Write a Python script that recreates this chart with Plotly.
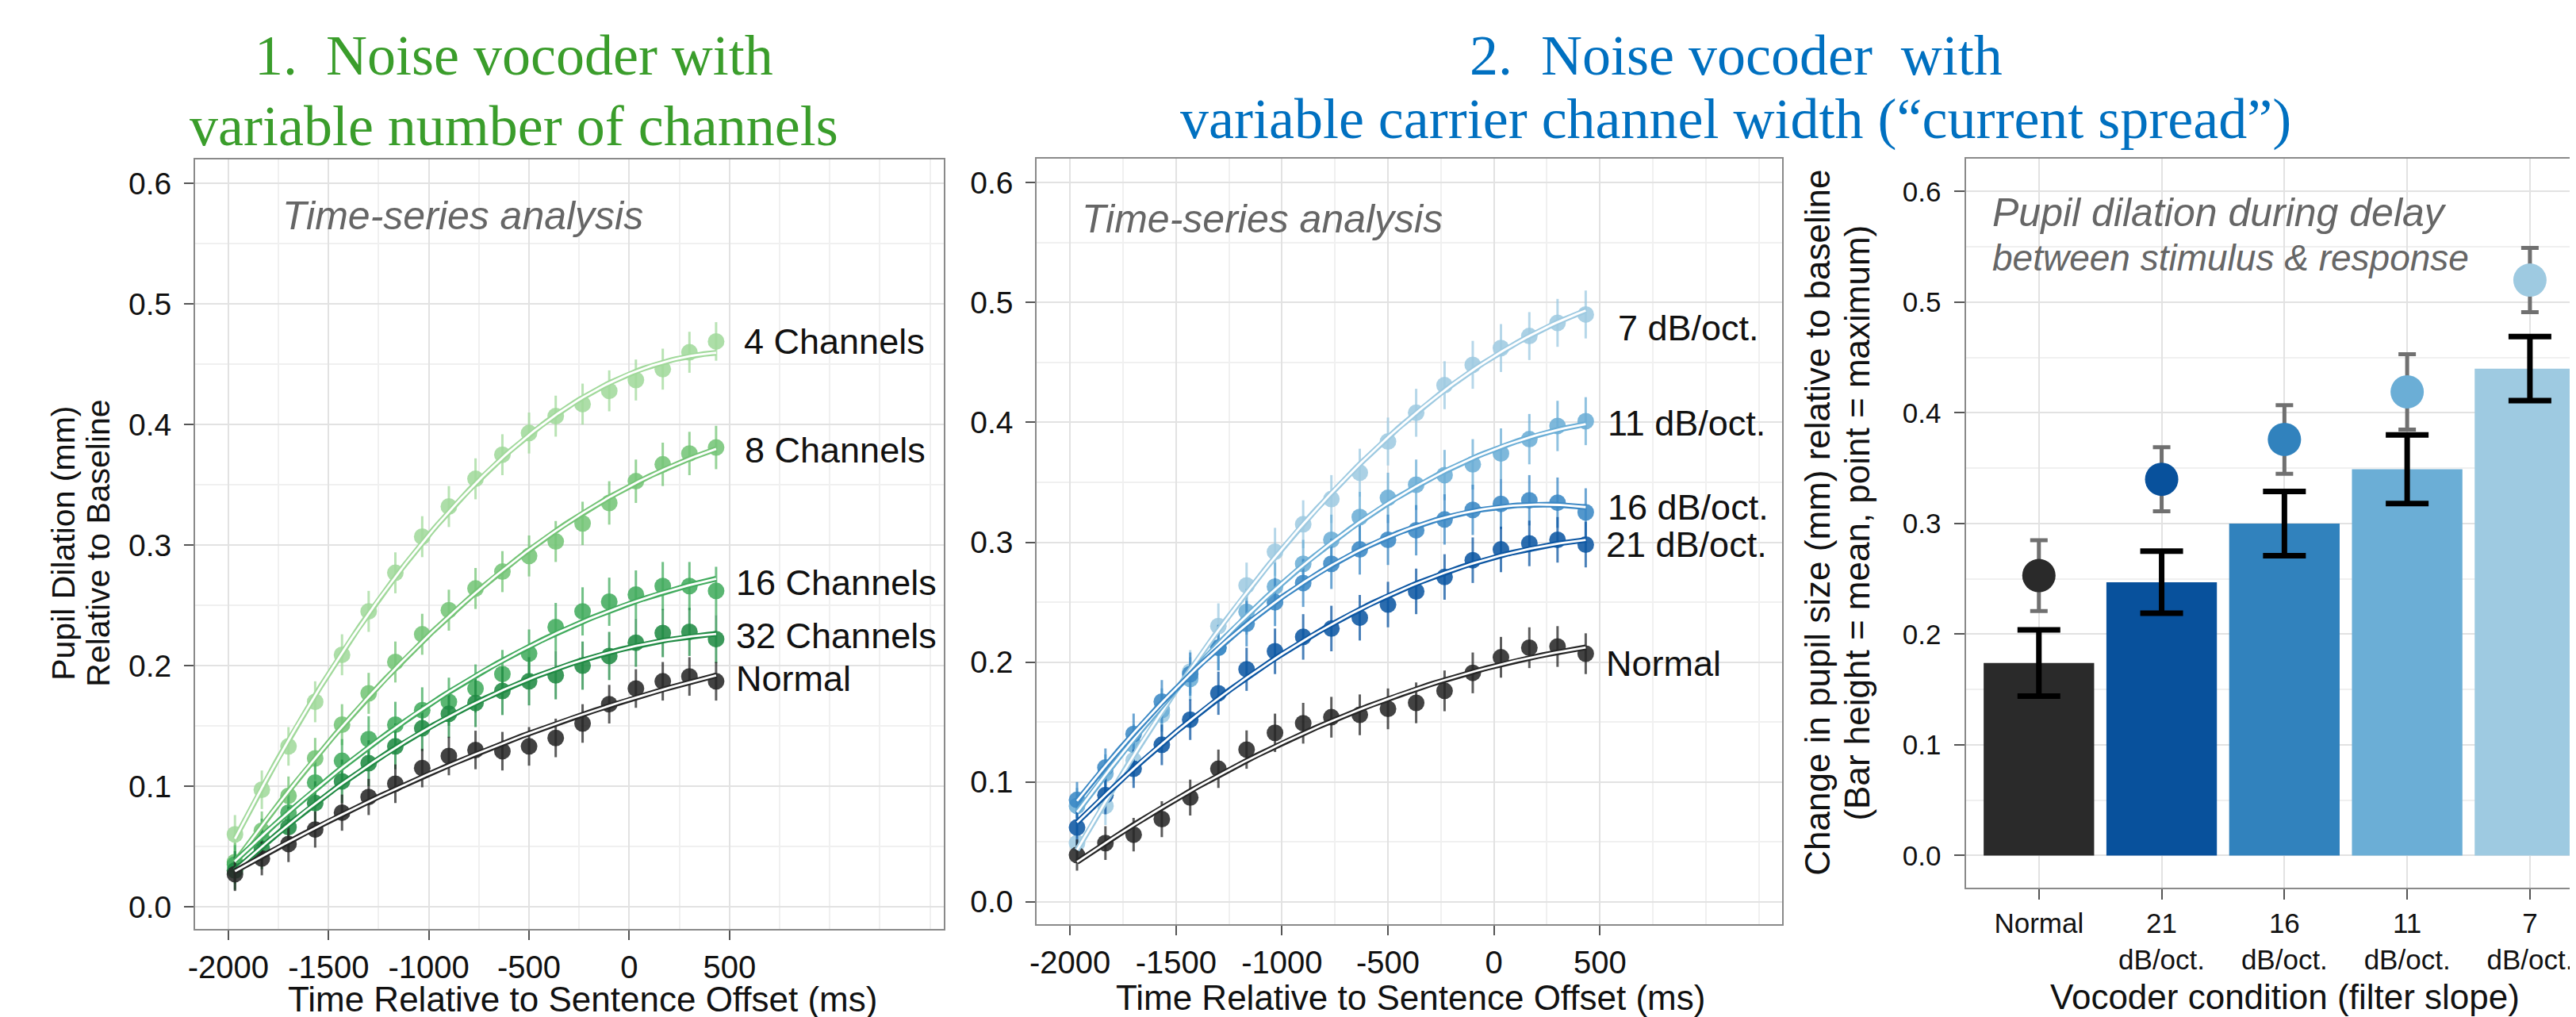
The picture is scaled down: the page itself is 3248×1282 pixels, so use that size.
import numpy as np
import plotly.graph_objects as go

W, H = 3248, 1282

# ---------------- data ----------------
time_ms = [-1967, -1833, -1700, -1567, -1433, -1300, -1167, -1033, -900, -767,
           -633, -500, -367, -233, -100, 33, 167, 300, 433]

# Panel 1: number of channels
p1_names = ["4 Channels", "8 Channels", "16 Channels", "32 Channels", "Normal"]
ch4 = [0.060, 0.097, 0.133, 0.170, 0.209, 0.245, 0.277, 0.307, 0.332, 0.355,
       0.375, 0.393, 0.407, 0.417, 0.428, 0.437, 0.446, 0.460, 0.469]
ch8 = [0.037, 0.063, 0.092, 0.123, 0.151, 0.177, 0.203, 0.226, 0.246, 0.264,
       0.278, 0.291, 0.303, 0.318, 0.335, 0.353, 0.367, 0.376, 0.381]
ch16 = [0.035, 0.056, 0.078, 0.103, 0.121, 0.139, 0.151, 0.163, 0.170, 0.181,
        0.193, 0.210, 0.232, 0.245, 0.253, 0.259, 0.266, 0.266, 0.262]
ch32 = [0.030, 0.048, 0.066, 0.086, 0.104, 0.119, 0.133, 0.148, 0.160, 0.169,
        0.179, 0.187, 0.192, 0.200, 0.208, 0.219, 0.227, 0.228, 0.222]
norm1 = [0.027, 0.040, 0.052, 0.064, 0.078, 0.091, 0.102, 0.115, 0.125, 0.130,
         0.129, 0.133, 0.140, 0.152, 0.168, 0.181, 0.187, 0.191, 0.187]
ch4_err = [0.016, 0.016, 0.016, 0.017, 0.017, 0.017, 0.017, 0.017, 0.017, 0.017,
           0.017, 0.017, 0.017, 0.017, 0.017, 0.017, 0.017, 0.017, 0.016]
ch8_err = [0.016, 0.016, 0.016, 0.017, 0.017, 0.017, 0.017, 0.017, 0.017, 0.017,
           0.017, 0.017, 0.017, 0.018, 0.018, 0.018, 0.018, 0.018, 0.018]
ch16_err = [0.016, 0.017, 0.017, 0.018, 0.018, 0.019, 0.019, 0.019, 0.020, 0.020,
            0.020, 0.020, 0.020, 0.020, 0.020, 0.020, 0.020, 0.020, 0.020]
ch32_err = [0.016, 0.017, 0.017, 0.018, 0.018, 0.019, 0.019, 0.019, 0.020, 0.020,
            0.020, 0.020, 0.020, 0.020, 0.020, 0.020, 0.020, 0.020, 0.020]
norm1_err = [0.014, 0.014, 0.015, 0.015, 0.015, 0.015, 0.016, 0.016, 0.016, 0.016,
             0.016, 0.016, 0.016, 0.016, 0.016, 0.016, 0.016, 0.016, 0.016]

# Panel 2: carrier filter slope
p2_names = ["7 dB/oct.", "11 dB/oct.", "16 dB/oct.", "21 dB/oct.", "Normal"]
db7 = [0.049, 0.080, 0.118, 0.156, 0.192, 0.230, 0.264, 0.292, 0.315, 0.336,
       0.358, 0.384, 0.408, 0.431, 0.448, 0.462, 0.472, 0.483, 0.490]
db11 = [0.080, 0.107, 0.131, 0.160, 0.186, 0.212, 0.242, 0.263, 0.282, 0.302,
        0.321, 0.337, 0.348, 0.356, 0.365, 0.374, 0.386, 0.397, 0.401]
db16 = [0.085, 0.112, 0.140, 0.167, 0.190, 0.212, 0.232, 0.250, 0.266, 0.282,
        0.294, 0.302, 0.310, 0.319, 0.327, 0.332, 0.335, 0.333, 0.325]
db21 = [0.062, 0.089, 0.111, 0.131, 0.152, 0.174, 0.194, 0.209, 0.221, 0.228,
        0.237, 0.248, 0.259, 0.271, 0.285, 0.294, 0.299, 0.302, 0.298]
norm2 = [0.039, 0.049, 0.056, 0.069, 0.087, 0.111, 0.127, 0.141, 0.149, 0.154,
         0.156, 0.161, 0.166, 0.176, 0.191, 0.204, 0.212, 0.213, 0.207]
db7_err = [0.015, 0.016, 0.017, 0.018, 0.018, 0.019, 0.019, 0.020, 0.020, 0.020,
           0.020, 0.020, 0.020, 0.020, 0.020, 0.020, 0.020, 0.020, 0.020]
db11_err = [0.015, 0.016, 0.017, 0.018, 0.018, 0.019, 0.019, 0.020, 0.020, 0.021,
            0.021, 0.021, 0.021, 0.021, 0.021, 0.021, 0.021, 0.021, 0.020]
db16_err = [0.015, 0.016, 0.017, 0.018, 0.018, 0.019, 0.019, 0.020, 0.020, 0.021,
            0.021, 0.021, 0.021, 0.021, 0.021, 0.021, 0.021, 0.021, 0.020]
db21_err = [0.015, 0.016, 0.016, 0.017, 0.017, 0.018, 0.018, 0.019, 0.019, 0.019,
            0.019, 0.019, 0.019, 0.019, 0.019, 0.019, 0.019, 0.019, 0.019]
norm2_err = [0.013, 0.014, 0.014, 0.015, 0.015, 0.016, 0.016, 0.016, 0.017, 0.017,
             0.017, 0.017, 0.017, 0.017, 0.017, 0.017, 0.017, 0.017, 0.017]

# Panel 3: delay-period summary
p3_conds = ["Normal", "21<br>dB/oct.", "16<br>dB/oct.", "11<br>dB/oct.", "7<br>dB/oct."]
p3_mean = [0.174, 0.247, 0.300, 0.349, 0.440]
p3_mean_err = [0.030, 0.028, 0.029, 0.031, 0.029]
p3_max = [0.253, 0.340, 0.376, 0.419, 0.520]
p3_max_err = [0.032, 0.029, 0.031, 0.034, 0.029]

y_ticks = [0.0, 0.1, 0.2, 0.3, 0.4, 0.5, 0.6]
x_ticks = [-2000, -1500, -1000, -500, 0, 500]

# ---------------- styling ----------------
SANS = "Liberation Sans, Arial, sans-serif"
SERIF = "Liberation Serif, Times New Roman, serif"
greens = ["#a1d99b", "#74c476", "#41ab5d", "#1f8a43", "#262626"]
blues = ["#9ecae1", "#6baed6", "#3a87c4", "#0c56a2", "#262626"]
bar_cols = ["#2a2a2a", "#08519c", "#3182bd", "#6baed6", "#9ecae1"]


def rgba(hexc, a):
    h = hexc.lstrip("#")
    return "rgba(%d,%d,%d,%.2f)" % (int(h[0:2], 16), int(h[2:4], 16), int(h[4:6], 16), a)


def px(xp):
    return xp / W


def py(yp):
    return 1 - yp / H


fig = go.Figure()

panels = [
    ("x", "y", p1_names, [ch4, ch8, ch16, ch32, norm1],
     [ch4_err, ch8_err, ch16_err, ch32_err, norm1_err], greens),
    ("x2", "y2", p2_names, [db7, db11, db16, db21, norm2],
     [db7_err, db11_err, db16_err, db21_err, norm2_err], blues),
]

for xa, ya, names, series, errs, cols in panels:
    for name, vals, er, c in zip(names, series, errs, cols):
        fig.add_trace(go.Scatter(
            x=time_ms, y=vals, mode="markers", xaxis=xa, yaxis=ya,
            marker=dict(size=21, color=rgba(c, 0.87), line=dict(width=0)),
            error_y=dict(type="data", array=er, color=rgba(c, 0.75),
                         thickness=3, width=0),
            showlegend=False, name=name))
    for name, vals, c in zip(names, series, cols):
        coef = np.polyfit(time_ms, vals, 2)
        tt = np.linspace(time_ms[0], time_ms[-1], 120)
        fit = np.polyval(coef, tt)
        fig.add_trace(go.Scatter(x=tt, y=fit, mode="lines", xaxis=xa, yaxis=ya,
                                 line=dict(color=c, width=7), showlegend=False,
                                 hoverinfo="skip"))
        fig.add_trace(go.Scatter(x=tt, y=fit, mode="lines", xaxis=xa, yaxis=ya,
                                 line=dict(color="white", width=2.8), showlegend=False,
                                 hoverinfo="skip"))

# Panel 3
fig.add_trace(go.Bar(
    x=p3_conds, y=p3_mean, xaxis="x3", yaxis="y3", width=0.9,
    marker=dict(color=bar_cols, line=dict(width=0)),
    error_y=dict(type="data", array=p3_mean_err, color="black", thickness=7, width=27),
    showlegend=False))
fig.add_trace(go.Scatter(
    x=p3_conds, y=p3_max, xaxis="x3", yaxis="y3", mode="markers",
    marker=dict(size=42, color=bar_cols, line=dict(width=0)),
    error_y=dict(type="data", array=p3_max_err, color="#707070", thickness=5, width=11),
    showlegend=False))

# ---------------- axes ----------------
grid_major = "#e2e2e2"
grid_minor = "#f0f0f0"
border = "#8a8a8a"

common_x = dict(showline=True, linecolor=border, linewidth=2, mirror=True,
                ticks="outside", ticklen=12, tickwidth=2, tickcolor="#555555",
                showgrid=True, gridcolor=grid_major, gridwidth=2, zeroline=False)
common_y = dict(common_x)

tick_text_y = ["%.1f" % v for v in y_ticks]

fig.update_layout(
    width=W, height=H,
    margin=dict(l=0, r=0, t=0, b=0),
    paper_bgcolor="white", plot_bgcolor="white",
    font=dict(family=SANS, color="#111111"),
    xaxis=dict(common_x, domain=[px(229.6), px(1176.3)], anchor="y",
               range=[-2166, 1569], tickvals=x_ticks,
               ticktext=[str(v) for v in x_ticks],
               tickfont=dict(size=40, family=SANS, color="#111111"),
               minor=dict(dtick=250, tick0=-2000, showgrid=True,
                          gridcolor=grid_minor, gridwidth=2, ticks="")),
    yaxis=dict(common_y, domain=[py(1163), py(193)], anchor="x",
               range=[-0.0185, 0.620], tickvals=y_ticks, ticktext=tick_text_y,
               tickfont=dict(size=39, family=SANS, color="#111111"),
               ticklabelstandoff=8,
               minor=dict(dtick=0.05, tick0=0, showgrid=True,
                          gridcolor=grid_minor, gridwidth=2, ticks="")),
    xaxis2=dict(common_x, domain=[px(1293.8), px(2235.8)], anchor="y2",
                range=[-2157, 1358], tickvals=x_ticks,
                ticktext=[str(v) for v in x_ticks],
                tickfont=dict(size=40, family=SANS, color="#111111"),
                minor=dict(dtick=250, tick0=-2000, showgrid=True,
                           gridcolor=grid_minor, gridwidth=2, ticks="")),
    yaxis2=dict(common_y, domain=[py(1156.9), py(191.7)], anchor="x2",
                range=[-0.0186, 0.6202], tickvals=y_ticks, ticktext=tick_text_y,
                tickfont=dict(size=39, family=SANS, color="#111111"),
                ticklabelstandoff=8,
                minor=dict(dtick=0.05, tick0=0, showgrid=True,
                           gridcolor=grid_minor, gridwidth=2, ticks="")),
    xaxis3=dict(common_x, domain=[px(2469.3), 1.0], anchor="y3",
                type="category", range=[-0.59, 4.427],
                tickfont=dict(size=35, family=SANS, color="#111111"),
                ticklen=13),
    yaxis3=dict(common_y, domain=[py(1111.2), py(192.3)], anchor="x3",
                mirror=False,
                range=[-0.0292, 0.6295], tickvals=y_ticks, ticktext=tick_text_y,
                tickfont=dict(size=35, family=SANS, color="#111111"),
                ticklen=13, ticklabelstandoff=10,
                minor=dict(dtick=0.05, tick0=0, showgrid=True,
                           gridcolor=grid_minor, gridwidth=2, ticks="")),
    bargap=0.1,
)

# ---------------- annotations ----------------
ann = []


def paper_text(text, x, y, size, color="#111111", family=SANS, xanchor="center",
               yanchor="middle", angle=0):
    ann.append(dict(text=text, x=px(x), y=py(y), xref="paper", yref="paper",
                    showarrow=False, xanchor=xanchor, yanchor=yanchor,
                    textangle=angle, font=dict(size=size, color=color, family=family)))


# headline titles
green_t = "#3a9d2b"
blue_t = "#0070c0"
paper_text("1.  Noise vocoder with", 633, 62, 72, green_t, SERIF)
paper_text("variable number of channels", 633, 151, 72, green_t, SERIF)
paper_text("2.  Noise vocoder  with", 2178, 62, 72, blue_t, SERIF)
paper_text("variable carrier channel width (\u201ccurrent spread\u201d)", 2178, 142, 72, blue_t, SERIF)

# axis titles
paper_text("Pupil Dilation (mm)", 63, 677, 41, angle=-90)
paper_text("Relative to Baseline", 107, 677, 41, angle=-90)
paper_text("Time Relative to Sentence Offset (ms)", 719, 1251, 44)
paper_text("Time Relative to Sentence Offset (ms)", 1766, 1249, 44)
paper_text("Change in pupil size (mm) relative to baseline", 2280, 651, 44, angle=-90)
paper_text("(Bar height = mean, point = maximum)", 2330, 651, 44, angle=-90)
paper_text("Vocoder condition (filter slope)", 2872, 1248, 44)

# in-panel notes
gray_t = "#666666"
paper_text("<i>Time-series analysis</i>", 338, 264, 50, gray_t, xanchor="left")
paper_text("<i>Time-series analysis</i>", 1349, 268, 50, gray_t, xanchor="left")
paper_text("<i>Pupil dilation during delay</i>", 2500, 260, 50, gray_t, xanchor="left")
paper_text("<i>between stimulus &amp; response</i>", 2500, 317, 46, gray_t, xanchor="left")

# series labels (data coordinates)
p1_label_x = [565, 568, 525, 525, 525]
p1_label_y = [0.469, 0.379, 0.269, 0.225, 0.189]
for name, lx, ly in zip(p1_names, p1_label_x, p1_label_y):
    ann.append(dict(text=name, x=lx, y=ly, xref="x", yref="y", showarrow=False,
                    xanchor="left", yanchor="middle",
                    font=dict(size=45, color="#111111", family=SANS)))
p2_label_x = [578, 528, 528, 522, 522]
p2_label_y = [0.479, 0.399, 0.329, 0.298, 0.199]
for name, lx, ly in zip(p2_names, p2_label_x, p2_label_y):
    ann.append(dict(text=name, x=lx, y=ly, xref="x2", yref="y2", showarrow=False,
                    xanchor="left", yanchor="middle",
                    font=dict(size=45, color="#111111", family=SANS)))

fig.update_layout(annotations=ann)

fig.write_html("out.html")
